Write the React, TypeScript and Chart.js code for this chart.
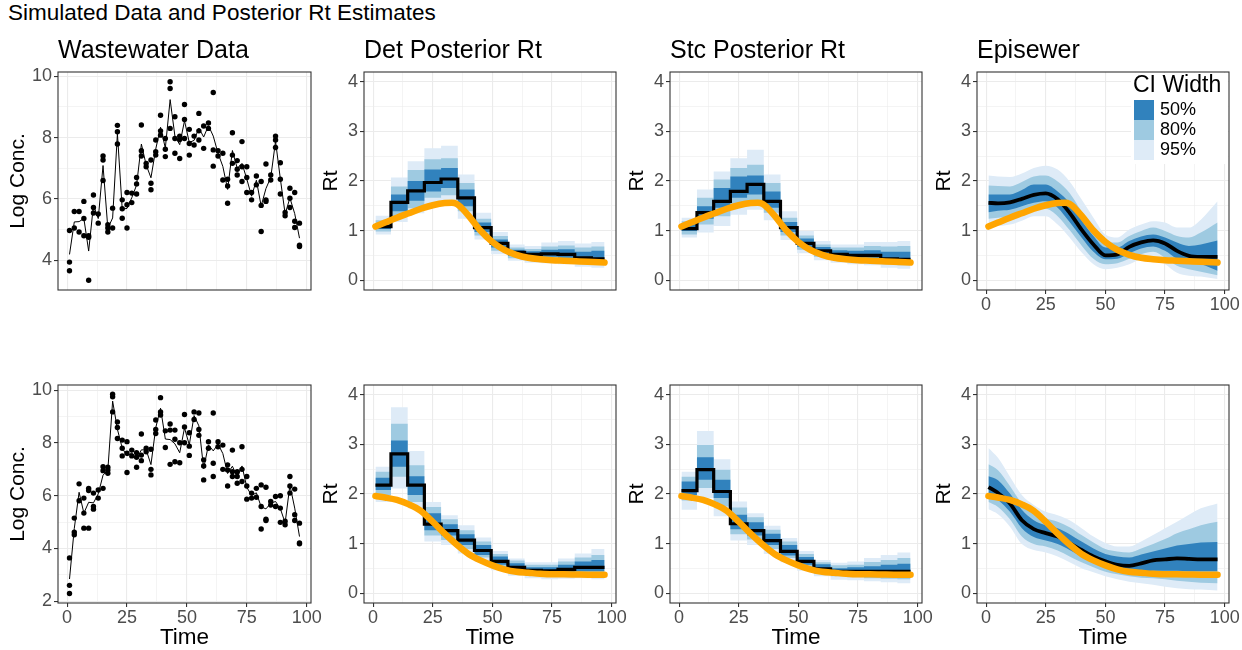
import React, { useEffect, useRef } from "react";
import { Chart, registerables } from "chart.js";

Chart.register(...registerables);

const FONT = "'Liberation Sans', Arial, Helvetica, sans-serif";

// ---------------- axes ----------------
const X_MIN = -3.8;
const X_MAX = 101.8;
const X_GRID = [0, 12.5, 25, 37.5, 50, 62.5, 75, 87.5, 100];
const X_MAJOR = [0, 25, 50, 75, 100];
const RT_MIN = -0.2;
const RT_MAX = 4.2;
const RT_GRID = [0, 0.5, 1, 1.5, 2, 2.5, 3, 3.5, 4];
const RT_MAJOR = [0, 1, 2, 3, 4];
const WW1_MIN = 3.03;
const WW1_MAX = 10.14;
const WW1_GRID = [4, 5, 6, 7, 8, 9, 10];
const WW1_MAJOR = [4, 6, 8, 10];
const WW2_MIN = 1.93;
const WW2_MAX = 10.2;
const WW2_GRID = [2, 3, 4, 5, 6, 7, 8, 9, 10];
const WW2_MAJOR = [2, 4, 6, 8, 10];

// ---------------- wastewater data ----------------
const WW_DAYS = [1, 3, 5, 7, 9, 11, 13, 15, 17, 19, 21, 23, 25, 27, 29, 31, 33, 35, 37, 39, 41, 43, 45, 47, 49,
  51, 53, 55, 57, 59, 61, 63, 65, 67, 69, 71, 73, 75, 77, 79, 81, 83, 85, 87, 89, 91, 93, 95, 97];

const WW1_OBS = [
  [4.97, 3.94, 3.66], [5.05, 5.59], [5.59, 4.92], [5.92, 5.36, 4.8], [4.8, 4.75, 3.35], [6.13, 5.72, 5.54],
  [5.51, 5.21], [7.4, 7.27, 6.6], [5.16, 4.92, 5.05], [5.7, 5.05], [8.4, 8.19, 7.79], [5.97, 5.68, 5.37],
  [6.21, 5.81, 5.05], [6.19, 5.88], [6.7, 6.49, 6.16], [8.41, 7.57, 7.4], [7.16, 7.05], [7.27, 6.51, 6.3],
  [7.92, 7.54, 7.43], [8.73, 8.22, 8.08], [7.97, 7.62, 7.38], [9.82, 9.6, 8.3], [8.68, 7.97, 7.49],
  [8.05, 7.94, 7.32], [9.08, 8.59, 7.97], [8.27, 7.81, 7.43], [8.05, 7.76], [8.79, 8.22, 7.92], [8.38, 7.65],
  [8.48, 8.3], [9.47, 7.6, 7.07], [7.57, 7.4], [7.49, 6.62], [6.64, 6.42, 5.86], [8.16, 7.43, 7.16],
  [7.25, 6.97, 6.78], [7.87, 7.05, 6.57], [7.05, 6.7, 6.21], [6.21, 5.97], [6.75, 6.46], [6.57, 5.79, 4.94],
  [7.14, 5.97, 5.92], [6.78, 6.62], [8.05, 7.92, 7.68], [7.18, 6.64, 6.16], [5.56, 5.45], [6.35, 6.02, 5.72],
  [6.21, 5.27, 5.07], [5.21, 4.49, 4.45],
];
const WW1_MEAN = [4.19, 5.25, 5.26, 5.36, 4.3, 5.8, 5.36, 7.09, 5.04, 5.38, 8.13, 5.67, 5.69, 6.04, 6.45, 7.79,
  7.11, 6.69, 7.63, 8.34, 7.66, 9.24, 8.05, 7.77, 8.55, 7.84, 7.91, 8.31, 8.02, 8.39, 8.05, 7.49, 7.06, 6.31,
  7.58, 7.0, 7.16, 6.65, 6.09, 6.61, 5.77, 6.34, 6.7, 7.88, 6.66, 5.51, 6.03, 5.52, 4.72];

const WW2_OBS = [
  [3.64, 2.6, 2.29], [5.15, 4.62, 4.52], [6.45, 5.81], [5.91, 5.34, 4.77], [6.28, 6.2, 4.77], [6.1, 5.59, 5.49],
  [6.22, 5.91], [7.1, 6.95, 6.28], [7.08, 6.98, 6.85], [9.85, 9.75, 9.18], [8.8, 8.59, 8.17], [8.11, 7.8, 7.51],
  [8.05, 7.61, 6.88], [7.73, 7.51], [7.63, 7.46, 7.08], [8.34, 7.54, 7.33], [7.8, 7.67], [7.76, 7.0, 6.79],
  [8.87, 8.51, 8.36], [9.72, 9.18, 9.06], [8.46, 7.83], [8.72, 8.49, 7.19], [8.49, 8.14, 7.29], [8.01, 7.25],
  [9.08, 8.61, 8.01], [8.39, 7.88, 7.53], [9.18, 8.89], [9.14, 8.51, 8.29], [7.36, 7.13, 6.6], [8.05, 7.8],
  [9.14, 7.23, 6.73], [8.05, 7.86], [7.92, 7.0], [7.17, 6.98, 6.37], [7.73, 6.91, 6.73], [6.91, 6.73, 6.47],
  [7.86, 7.0, 6.54], [6.73, 6.37, 5.87], [6.1, 5.91], [6.28, 5.94], [6.41, 5.59, 4.74], [6.32, 5.11, 5.06],
  [5.78, 5.65], [5.97, 5.59], [6.0, 5.53, 4.99], [5.03, 4.9], [6.73, 6.37, 6.1], [6.25, 5.28, 5.06],
  [4.96, 4.21, 4.18],
];
const WW2_MEAN = [2.84, 4.76, 6.13, 5.34, 5.75, 5.73, 6.07, 6.78, 6.97, 9.59, 8.52, 7.81, 7.51, 7.62, 7.39, 7.74,
  7.74, 7.18, 8.58, 9.32, 8.15, 8.13, 7.97, 7.63, 8.57, 7.93, 9.04, 8.65, 7.03, 7.93, 7.7, 7.96, 7.6, 6.84,
  7.12, 6.7, 7.13, 6.32, 6.01, 6.11, 5.58, 5.5, 5.72, 5.78, 5.51, 4.97, 6.4, 5.53, 4.45];

// ---------------- true Rt ----------------
const TRUE1_T = [1, 5, 10, 15, 20, 25, 30, 33, 35, 37, 40, 45, 50, 55, 60, 65, 70, 75, 80, 85, 90, 97];
const TRUE1_RT = [1.08, 1.16, 1.26, 1.35, 1.44, 1.51, 1.555, 1.56, 1.54, 1.46, 1.3, 1.0, 0.77, 0.61, 0.51, 0.45,
  0.42, 0.4, 0.39, 0.38, 0.37, 0.355];
const TRUE2_T = [1, 5, 10, 15, 20, 25, 30, 35, 40, 45, 50, 55, 60, 65, 70, 75, 80, 85, 90, 97];
const TRUE2_RT = [1.96, 1.93, 1.88, 1.79, 1.66, 1.44, 1.2, 0.98, 0.79, 0.66, 0.56, 0.48, 0.43, 0.41, 0.39, 0.38,
  0.38, 0.375, 0.37, 0.37];

// ---------------- weekly (step) posteriors ----------------
const STEP_T = [1, 7.5, 14.5, 21.5, 28.5, 35.5, 42.5, 49.5, 56.5, 63.5, 70.5, 77.5, 84.5, 91.5, 97];

const DET1_MED = [1.08, 1.57, 1.8, 1.97, 2.04, 1.66, 1.06, 0.74, 0.56, 0.52, 0.53, 0.52, 0.45, 0.43];
const DET1_U95 = [1.3, 2.07, 2.4, 2.66, 2.71, 2.13, 1.36, 0.97, 0.72, 0.69, 0.76, 0.79, 0.74, 0.77];
const DET1_U80 = [1.21, 1.89, 2.22, 2.44, 2.46, 1.96, 1.24, 0.89, 0.66, 0.63, 0.68, 0.7, 0.66, 0.68];
const DET1_U50 = [1.14, 1.73, 2.0, 2.23, 2.26, 1.83, 1.16, 0.82, 0.61, 0.58, 0.61, 0.62, 0.57, 0.59];
const DET1_L50 = [1.03, 1.39, 1.6, 1.79, 1.86, 1.49, 0.97, 0.66, 0.49, 0.46, 0.47, 0.45, 0.39, 0.37];
const DET1_L80 = [0.98, 1.29, 1.45, 1.66, 1.71, 1.39, 0.9, 0.59, 0.44, 0.4, 0.41, 0.39, 0.33, 0.32];
const DET1_L95 = [0.92, 1.17, 1.35, 1.49, 1.56, 1.24, 0.82, 0.52, 0.39, 0.35, 0.34, 0.32, 0.27, 0.25];

const STC1_MED = [1.04, 1.36, 1.59, 1.79, 1.93, 1.59, 1.06, 0.74, 0.59, 0.52, 0.5, 0.5, 0.43, 0.42];
const STC1_U95 = [1.26, 1.83, 2.19, 2.46, 2.63, 2.13, 1.39, 0.99, 0.79, 0.72, 0.72, 0.77, 0.77, 0.79];
const STC1_U80 = [1.19, 1.66, 2.03, 2.26, 2.33, 1.96, 1.26, 0.9, 0.72, 0.66, 0.66, 0.69, 0.68, 0.69];
const STC1_U50 = [1.14, 1.49, 1.86, 2.09, 2.11, 1.79, 1.17, 0.84, 0.67, 0.6, 0.59, 0.6, 0.57, 0.57];
const STC1_L50 = [0.99, 1.24, 1.46, 1.66, 1.73, 1.46, 0.97, 0.67, 0.52, 0.47, 0.44, 0.42, 0.37, 0.35];
const STC1_L80 = [0.92, 1.12, 1.29, 1.49, 1.59, 1.36, 0.9, 0.61, 0.47, 0.42, 0.39, 0.37, 0.32, 0.3];
const STC1_L95 = [0.86, 0.96, 1.09, 1.32, 1.42, 1.21, 0.81, 0.54, 0.4, 0.35, 0.32, 0.3, 0.25, 0.23];

const DET2_MED = [2.18, 2.81, 2.18, 1.39, 1.26, 1.07, 0.86, 0.64, 0.52, 0.46, 0.45, 0.48, 0.52, 0.52];
const DET2_U95 = [2.55, 3.75, 2.87, 1.84, 1.57, 1.37, 1.12, 0.85, 0.7, 0.62, 0.62, 0.7, 0.8, 0.89];
const DET2_U80 = [2.45, 3.42, 2.58, 1.74, 1.49, 1.27, 1.04, 0.79, 0.66, 0.57, 0.57, 0.64, 0.72, 0.77];
const DET2_U50 = [2.33, 3.08, 2.36, 1.61, 1.39, 1.19, 0.97, 0.74, 0.6, 0.52, 0.52, 0.57, 0.64, 0.67];
const DET2_L50 = [2.08, 2.55, 1.98, 1.27, 1.16, 0.97, 0.77, 0.57, 0.46, 0.4, 0.39, 0.42, 0.44, 0.44];
const DET2_L80 = [1.98, 2.35, 1.84, 1.16, 1.07, 0.89, 0.72, 0.52, 0.4, 0.36, 0.34, 0.36, 0.37, 0.36];
const DET2_L95 = [1.84, 2.11, 1.71, 1.04, 0.97, 0.8, 0.64, 0.46, 0.35, 0.3, 0.28, 0.29, 0.3, 0.28];

const STC2_MED = [2.07, 2.49, 2.05, 1.4, 1.26, 1.06, 0.84, 0.64, 0.49, 0.44, 0.44, 0.44, 0.44, 0.44];
const STC2_U95 = [2.45, 3.27, 2.7, 1.85, 1.61, 1.36, 1.11, 0.85, 0.67, 0.61, 0.64, 0.71, 0.77, 0.82];
const STC2_U80 = [2.35, 2.99, 2.49, 1.73, 1.53, 1.28, 1.04, 0.79, 0.62, 0.56, 0.57, 0.63, 0.67, 0.71];
const STC2_U50 = [2.25, 2.74, 2.29, 1.58, 1.43, 1.2, 0.97, 0.73, 0.58, 0.5, 0.52, 0.54, 0.57, 0.59];
const STC2_L50 = [1.98, 2.29, 1.92, 1.29, 1.16, 0.97, 0.76, 0.57, 0.44, 0.38, 0.37, 0.36, 0.36, 0.35];
const STC2_L80 = [1.87, 2.12, 1.75, 1.19, 1.08, 0.89, 0.71, 0.52, 0.39, 0.34, 0.32, 0.3, 0.29, 0.28];
const STC2_L95 = [1.68, 1.92, 1.55, 1.06, 0.97, 0.79, 0.62, 0.45, 0.34, 0.27, 0.26, 0.24, 0.22, 0.2];

// ---------------- Episewer (smooth) posteriors ----------------
const EPI_T = [1, 5, 10, 15, 20, 25, 30, 35, 40, 45, 50, 55, 60, 65, 70, 75, 80, 85, 90, 97];

const EPI1_MED = [1.56, 1.55, 1.57, 1.64, 1.72, 1.75, 1.63, 1.36, 1.02, 0.72, 0.5, 0.52, 0.67, 0.76, 0.8, 0.74, 0.59, 0.49, 0.47, 0.47];
const EPI1_U95 = [2.11, 2.09, 2.08, 2.15, 2.26, 2.31, 2.23, 1.99, 1.63, 1.26, 0.92, 0.86, 1.02, 1.12, 1.19, 1.16, 1.06, 1.06, 1.22, 1.59];
const EPI1_U80 = [1.91, 1.9, 1.89, 1.98, 2.09, 2.11, 1.99, 1.76, 1.39, 1.06, 0.77, 0.76, 0.89, 0.99, 1.06, 0.99, 0.89, 0.86, 0.96, 1.16];
const EPI1_U50 = [1.73, 1.73, 1.73, 1.82, 1.93, 1.93, 1.79, 1.56, 1.21, 0.89, 0.66, 0.66, 0.79, 0.88, 0.92, 0.86, 0.76, 0.69, 0.72, 0.8];
const EPI1_L50 = [1.37, 1.4, 1.42, 1.49, 1.56, 1.59, 1.46, 1.17, 0.86, 0.57, 0.42, 0.43, 0.54, 0.64, 0.68, 0.59, 0.43, 0.35, 0.32, 0.19];
const EPI1_L80 = [1.24, 1.26, 1.28, 1.35, 1.42, 1.44, 1.29, 1.01, 0.7, 0.43, 0.32, 0.34, 0.43, 0.52, 0.57, 0.45, 0.29, 0.22, 0.17, 0.1];
const EPI1_L95 = [1.06, 1.09, 1.12, 1.2, 1.29, 1.29, 1.12, 0.86, 0.56, 0.32, 0.22, 0.25, 0.32, 0.42, 0.45, 0.32, 0.15, 0.09, 0.07, 0.02];

const EPI2_MED = [2.14, 2.02, 1.81, 1.47, 1.29, 1.21, 1.14, 1.01, 0.87, 0.74, 0.64, 0.57, 0.55, 0.6, 0.66, 0.68, 0.7, 0.69, 0.68, 0.68];
const EPI2_U95 = [2.93, 2.73, 2.35, 1.98, 1.78, 1.64, 1.57, 1.47, 1.31, 1.14, 1.01, 0.94, 0.94, 1.04, 1.17, 1.31, 1.44, 1.58, 1.71, 1.81];
const EPI2_U80 = [2.6, 2.48, 2.16, 1.81, 1.62, 1.51, 1.44, 1.33, 1.17, 1.02, 0.89, 0.84, 0.82, 0.9, 0.99, 1.09, 1.21, 1.29, 1.37, 1.44];
const EPI2_U50 = [2.36, 2.28, 2.01, 1.68, 1.47, 1.37, 1.31, 1.19, 1.04, 0.9, 0.79, 0.74, 0.72, 0.78, 0.84, 0.9, 0.96, 0.99, 1.02, 1.03];
const EPI2_L50 = [1.98, 1.88, 1.64, 1.31, 1.13, 1.06, 0.99, 0.87, 0.74, 0.62, 0.52, 0.47, 0.44, 0.44, 0.45, 0.45, 0.45, 0.44, 0.44, 0.44];
const EPI2_L80 = [1.84, 1.74, 1.49, 1.14, 0.99, 0.94, 0.86, 0.74, 0.62, 0.52, 0.43, 0.38, 0.34, 0.31, 0.3, 0.28, 0.25, 0.23, 0.21, 0.2];
const EPI2_L95 = [1.69, 1.59, 1.34, 0.99, 0.87, 0.82, 0.74, 0.62, 0.5, 0.42, 0.34, 0.28, 0.23, 0.2, 0.17, 0.13, 0.1, 0.08, 0.07, 0.05];

// ---------------- legend ----------------
const CI_LABELS = ["50%", "80%", "95%"];
const CI_COLORS = ["#3182BD", "#9ECAE1", "#DEEBF7"];
const TRUE_COLOR = "#FFA500";

// ---------------- layout ----------------
const COLS = [
  { cl: 0, cw: 330, plotL: 58, plotR: 311, yTitleGap: 40 },
  { cl: 314, cw: 320, plotL: 364, plotR: 616, yTitleGap: 33 },
  { cl: 620, cw: 320, plotL: 670, plotR: 922, yTitleGap: 33 },
  { cl: 926, cw: 316, plotL: 977, plotR: 1229, yTitleGap: 33 },
];
const ROWS = [
  { ct: 28, ch: 310, plotT: 72, plotB: 290 },
  { ct: 330, ch: 320, plotT: 385, plotB: 603 },
];

const TICK_SIZE = 18;
const AXIS_TITLE_SIZE = 21;
const PANEL_TITLE_SIZE = 25;

type Bands = { med: number[]; u95: number[]; u80: number[]; u50: number[]; l50: number[]; l80: number[]; l95: number[] };

function pts(t: number[], v: number[]) {
  return t.map((x, i) => ({ x, y: v[i] }));
}
function stepPts(v: number[]) {
  return STEP_T.map((x, i) => ({ x, y: v[Math.min(i, v.length - 1)] }));
}

function rtDatasets(kind: "step" | "smooth", b: Bands, trueT: number[], trueV: number[]) {
  const mk = (v: number[]) => (kind === "step" ? stepPts(v) : pts(EPI_T, v));
  const shape: any = kind === "step" ? { stepped: "before" } : { cubicInterpolationMode: "monotone" };
  const band = (label: string, v: number[], color: string | null) => ({
    label,
    data: mk(v),
    pointRadius: 0,
    borderWidth: 0,
    borderColor: "rgba(0,0,0,0)",
    backgroundColor: color || "rgba(0,0,0,0)",
    fill: color ? "+1" : false,
    ...shape,
  });
  return [
    {
      label: "True Rt",
      data: pts(trueT, trueV),
      borderColor: TRUE_COLOR,
      borderWidth: 6.5,
      pointRadius: 0,
      fill: false,
      cubicInterpolationMode: "monotone",
      borderCapStyle: "round",
      borderJoinStyle: "round",
    },
    {
      label: "Median",
      data: mk(b.med),
      borderColor: "#000000",
      borderWidth: kind === "step" ? 3.2 : 3.8,
      pointRadius: 0,
      fill: false,
      ...shape,
    },
    band("50% upper", b.u50, CI_COLORS[0]),
    band("50% lower", b.l50, null),
    band("80% upper", b.u80, CI_COLORS[1]),
    band("80% lower", b.l80, null),
    band("95% upper", b.u95, CI_COLORS[2]),
    band("95% lower", b.l95, null),
  ];
}

function wwDatasets(obs: number[][], mean: number[]) {
  const points: { x: number; y: number }[] = [];
  obs.forEach((vals, i) => vals.forEach((v) => points.push({ x: WW_DAYS[i], y: v })));
  return [
    {
      label: "Observed",
      data: points,
      showLine: false,
      pointRadius: 2.7,
      pointBackgroundColor: "#000000",
      pointBorderColor: "#000000",
      pointBorderWidth: 0,
    },
    {
      label: "Mean",
      data: pts(WW_DAYS, mean),
      borderColor: "#000000",
      borderWidth: 1,
      pointRadius: 0,
      fill: false,
    },
  ];
}

const borderPlugin = {
  id: "panelBorder",
  afterDraw(chart: any) {
    const { ctx, chartArea: a } = chart;
    ctx.save();
    ctx.strokeStyle = "#333333";
    ctx.lineWidth = 1.1;
    ctx.strokeRect(a.left, a.top, a.right - a.left, a.bottom - a.top);
    ctx.restore();
  },
};

const ciLegendPlugin = {
  id: "ciLegend",
  afterDatasetsDraw(chart: any) {
    const { ctx, chartArea: a } = chart;
    ctx.save();
    ctx.fillStyle = "#ffffff";
    ctx.fillRect(a.right - 98, a.top + 1, 97, 91);
    ctx.fillStyle = "#000000";
    ctx.textAlign = "left";
    ctx.textBaseline = "alphabetic";
    ctx.font = `23px ${FONT}`;
    ctx.fillText("CI Width", a.right - 96, a.top + 19.7);
    ctx.font = `${TICK_SIZE}px ${FONT}`;
    ctx.textBaseline = "middle";
    CI_LABELS.forEach((lab, i) => {
      ctx.fillStyle = CI_COLORS[i];
      ctx.fillRect(a.right - 95, a.top + 28 + i * 20, 20, 20);
      ctx.fillStyle = "#000000";
      ctx.fillText(lab, a.right - 69, a.top + 38 + i * 20);
    });
    ctx.restore();
  },
};

type Spec = {
  key: string;
  row: number;
  col: number;
  title?: string;
  yTitle: string;
  showXTicks: boolean;
  showXTitle: boolean;
  yMin: number;
  yMax: number;
  yGrid: number[];
  yMajor: number[];
  datasets: any[];
  legend?: boolean;
};

function gridOpts(majors: number[], drawTicks: boolean) {
  const isMajor = (c: any) => !!c.tick && majors.includes(c.tick.value);
  return {
    color: "#EBEBEB",
    lineWidth: (c: any) => (isMajor(c) ? 1.1 : 0.55),
    drawTicks,
    tickLength: 4,
    tickWidth: 1.1,
    tickColor: (c: any) => (isMajor(c) ? "#333333" : "rgba(0,0,0,0)"),
  };
}

function buildConfig(s: Spec): any {
  const col = COLS[s.col];
  const row = ROWS[s.row];
  const yAxisW = col.plotL - col.cl;
  const rightPad = col.cl + col.cw - col.plotR;
  const xAxisH = row.ct + row.ch - row.plotB;
  const topPad = s.title ? 0 : row.plotT - row.ct;
  const yTitleLH = AXIS_TITLE_SIZE * 1.2;
  const yTitlePad = col.plotL - col.yTitleGap - col.cl - yTitleLH / 2;
  const titleLH = PANEL_TITLE_SIZE * 1.2;
  const titlePadTop = 51.5 - row.ct - titleLH / 2;
  const titlePadBottom = row.plotT - row.ct - titleLH - titlePadTop;

  const plugins: any[] = [borderPlugin];
  if (s.legend) plugins.push(ciLegendPlugin);

  return {
    type: "line",
    data: { datasets: s.datasets },
    plugins,
    options: {
      animation: false,
      responsive: false,
      maintainAspectRatio: false,
      devicePixelRatio: 1,
      events: [],
      layout: { padding: { left: 0, right: rightPad, top: topPad, bottom: 0 } },
      plugins: {
        legend: { display: false },
        tooltip: { enabled: false },
        title: s.title
          ? {
              display: true,
              text: s.title,
              align: "start",
              fullSize: false,
              color: "#000000",
              font: { family: FONT, size: PANEL_TITLE_SIZE, weight: "normal", lineHeight: 1.2 },
              padding: { top: titlePadTop, bottom: titlePadBottom },
            }
          : { display: false },
      },
      scales: {
        x: {
          type: "linear",
          bounds: "data",
          min: X_MIN,
          max: X_MAX,
          afterBuildTicks: (sc: any) => {
            sc.ticks = X_GRID.map((v) => ({ value: v }));
          },
          afterFit: (sc: any) => {
            sc.height = xAxisH;
          },
          ticks: {
            display: s.showXTicks,
            autoSkip: false,
            maxRotation: 0,
            minRotation: 0,
            padding: 0,
            color: "#4D4D4D",
            font: { family: FONT, size: TICK_SIZE },
            callback: (v: any) => (X_MAJOR.includes(v) ? String(v) : ""),
          },
          grid: gridOpts(X_MAJOR, s.showXTicks),
          border: { display: false },
          title: {
            display: s.showXTitle,
            text: "Time",
            color: "#000000",
            font: { family: FONT, size: 22.5, lineHeight: 1.1 },
            padding: { top: 0, bottom: 0 },
          },
        },
        y: {
          type: "linear",
          bounds: "data",
          min: s.yMin,
          max: s.yMax,
          afterBuildTicks: (sc: any) => {
            sc.ticks = s.yGrid.map((v) => ({ value: v }));
          },
          afterFit: (sc: any) => {
            sc.width = yAxisW;
          },
          ticks: {
            autoSkip: false,
            padding: 2,
            color: "#4D4D4D",
            font: { family: FONT, size: TICK_SIZE },
            callback: (v: any) => (s.yMajor.includes(v) ? String(v) : ""),
          },
          grid: gridOpts(s.yMajor, true),
          border: { display: false },
          title: {
            display: true,
            text: s.yTitle,
            color: "#000000",
            font: { family: FONT, size: AXIS_TITLE_SIZE, lineHeight: 1.2 },
            padding: { top: yTitlePad, bottom: 0 },
          },
        },
      },
    },
  };
}

const DET1: Bands = { med: DET1_MED, u95: DET1_U95, u80: DET1_U80, u50: DET1_U50, l50: DET1_L50, l80: DET1_L80, l95: DET1_L95 };
const STC1: Bands = { med: STC1_MED, u95: STC1_U95, u80: STC1_U80, u50: STC1_U50, l50: STC1_L50, l80: STC1_L80, l95: STC1_L95 };
const EPI1: Bands = { med: EPI1_MED, u95: EPI1_U95, u80: EPI1_U80, u50: EPI1_U50, l50: EPI1_L50, l80: EPI1_L80, l95: EPI1_L95 };
const DET2: Bands = { med: DET2_MED, u95: DET2_U95, u80: DET2_U80, u50: DET2_U50, l50: DET2_L50, l80: DET2_L80, l95: DET2_L95 };
const STC2: Bands = { med: STC2_MED, u95: STC2_U95, u80: STC2_U80, u50: STC2_U50, l50: STC2_L50, l80: STC2_L80, l95: STC2_L95 };
const EPI2: Bands = { med: EPI2_MED, u95: EPI2_U95, u80: EPI2_U80, u50: EPI2_U50, l50: EPI2_L50, l80: EPI2_L80, l95: EPI2_L95 };

const SPECS: Spec[] = [
  { key: "ww1", row: 0, col: 0, title: "Wastewater Data", yTitle: "Log Conc.", showXTicks: false, showXTitle: false,
    yMin: WW1_MIN, yMax: WW1_MAX, yGrid: WW1_GRID, yMajor: WW1_MAJOR, datasets: wwDatasets(WW1_OBS, WW1_MEAN) },
  { key: "det1", row: 0, col: 1, title: "Det Posterior Rt", yTitle: "Rt", showXTicks: false, showXTitle: false,
    yMin: RT_MIN, yMax: RT_MAX, yGrid: RT_GRID, yMajor: RT_MAJOR, datasets: rtDatasets("step", DET1, TRUE1_T, TRUE1_RT) },
  { key: "stc1", row: 0, col: 2, title: "Stc Posterior Rt", yTitle: "Rt", showXTicks: false, showXTitle: false,
    yMin: RT_MIN, yMax: RT_MAX, yGrid: RT_GRID, yMajor: RT_MAJOR, datasets: rtDatasets("step", STC1, TRUE1_T, TRUE1_RT) },
  { key: "epi1", row: 0, col: 3, title: "Episewer", yTitle: "Rt", showXTicks: true, showXTitle: false, legend: true,
    yMin: RT_MIN, yMax: RT_MAX, yGrid: RT_GRID, yMajor: RT_MAJOR, datasets: rtDatasets("smooth", EPI1, TRUE1_T, TRUE1_RT) },
  { key: "ww2", row: 1, col: 0, yTitle: "Log Conc.", showXTicks: true, showXTitle: true,
    yMin: WW2_MIN, yMax: WW2_MAX, yGrid: WW2_GRID, yMajor: WW2_MAJOR, datasets: wwDatasets(WW2_OBS, WW2_MEAN) },
  { key: "det2", row: 1, col: 1, yTitle: "Rt", showXTicks: true, showXTitle: true,
    yMin: RT_MIN, yMax: RT_MAX, yGrid: RT_GRID, yMajor: RT_MAJOR, datasets: rtDatasets("step", DET2, TRUE2_T, TRUE2_RT) },
  { key: "stc2", row: 1, col: 2, yTitle: "Rt", showXTicks: true, showXTitle: true,
    yMin: RT_MIN, yMax: RT_MAX, yGrid: RT_GRID, yMajor: RT_MAJOR, datasets: rtDatasets("step", STC2, TRUE2_T, TRUE2_RT) },
  { key: "epi2", row: 1, col: 3, yTitle: "Rt", showXTicks: true, showXTitle: true,
    yMin: RT_MIN, yMax: RT_MAX, yGrid: RT_GRID, yMajor: RT_MAJOR, datasets: rtDatasets("smooth", EPI2, TRUE2_T, TRUE2_RT) },
];

function Panel({ spec }: { spec: Spec }) {
  const ref = useRef<HTMLCanvasElement | null>(null);
  useEffect(() => {
    if (!ref.current) return;
    const chart = new Chart(ref.current, buildConfig(spec));
    return () => chart.destroy();
  }, [spec]);
  const col = COLS[spec.col];
  const row = ROWS[spec.row];
  return (
    <canvas
      ref={ref}
      width={col.cw}
      height={row.ch}
      style={{ position: "absolute", left: col.cl, top: row.ct, width: col.cw, height: row.ch, display: "block" }}
    />
  );
}

export default function App() {
  return (
    <div
      style={{
        position: "fixed",
        left: 0,
        top: 0,
        width: 1242,
        height: 650,
        overflow: "hidden",
        background: "#ffffff",
      }}
    >
      <div
        style={{
          position: "absolute",
          left: 8,
          top: 1,
          fontFamily: FONT,
          fontSize: 22.5,
          lineHeight: "24px",
          color: "#000000",
          whiteSpace: "nowrap",
        }}
      >
        Simulated Data and Posterior Rt Estimates
      </div>
      {SPECS.map((s) => (
        <Panel key={s.key} spec={s} />
      ))}
    </div>
  );
}
